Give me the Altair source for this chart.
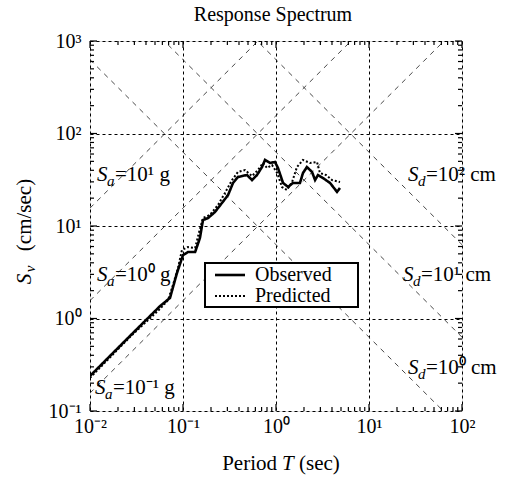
import altair as alt
import pandas as pd
import numpy as np

# ---------------- data ----------------
obs_T = [0.010, 0.0269, 0.0566, 0.0725, 0.0861, 0.100, 0.113, 0.135, 0.152, 0.164,
         0.186, 0.221, 0.262, 0.305, 0.345, 0.390, 0.488, 0.552, 0.625, 0.707,
         0.762, 0.862, 0.976, 1.05, 1.19, 1.35, 1.52, 1.81, 1.95, 2.15,
         2.44, 2.63, 2.83, 3.20, 3.81, 4.53, 4.88]
obs_Sv = [0.239, 0.647, 1.36, 1.67, 3.10, 4.85, 5.23, 5.23, 7.41, 11.6,
          12.2, 14.2, 17.7, 21.6, 29.2, 33.9, 35.6, 31.4, 35.6, 43.4,
          51.8, 48.0, 49.2, 42.4, 29.2, 26.4, 29.2, 29.2, 37.4, 43.4,
          38.4, 31.4, 35.6, 33.0, 29.2, 23.4, 25.8]
pred_T = [0.0100, 0.0269, 0.0566, 0.0690, 0.0780, 0.0883, 0.0975, 0.113, 0.135, 0.149,
          0.164, 0.195, 0.238, 0.283, 0.337, 0.390, 0.464, 0.552, 0.640, 0.724,
          0.800, 0.906, 1.03, 1.16, 1.31, 1.49, 1.68, 1.95, 2.32, 2.76,
          2.97, 3.45, 4.00, 4.88]
pred_Sv = [0.228, 0.631, 1.27, 1.58, 2.30, 3.52, 5.51, 5.93, 5.78, 8.61,
           12.2, 13.2, 16.9, 22.8, 31.4, 38.4, 40.3, 34.7, 40.3, 48.0,
           42.4, 45.6, 37.4, 26.4, 24.5, 29.9, 43.4, 51.8, 48.0, 49.2,
           37.4, 35.6, 31.4, 29.9]
series_names = ["Observed", "Predicted"]

x_decades = [0.01, 0.1, 1, 10, 100]
y_decades = [0.1, 1, 10, 100, 1000]
x_tick_text = ["10⁻²", "10⁻¹", "10⁰", "10¹", "10²"]
y_tick_text = ["10⁻¹", "10⁰", "10¹", "10²", "10³"]

sa_levels_g = [0.1, 1, 10]
sd_levels_cm = [1, 10, 100]
sa_label_rest = ["=10⁻¹ g", "=10⁰ g", "=10¹ g"]
sd_label_rest = ["=10⁰ cm", "=10¹ cm", "=10² cm"]
sa_label_T = [0.0113, 0.0119, 0.0119]
sa_label_Sv = [0.177, 2.95, 35.6]
sd_label_T = [26.2, 23.2, 26.2]
sd_label_Sv = [0.292, 2.95, 35.6]

G = 981.0
W, H = 372, 370
FONT = "Liberation Serif"

# ---------------- tables ----------------
lines_df = pd.concat([
    pd.DataFrame({"T": obs_T, "Sv": obs_Sv, "series": series_names[0]}),
    pd.DataFrame({"T": pred_T, "Sv": pred_Sv, "series": series_names[1]}),
])

diag_rows = []
for sa in sa_levels_g:
    for t in (0.01, 100.0):
        diag_rows.append({"T": t, "Sv": sa * G * t / (2 * np.pi), "line": f"Sa{sa}"})
for sd in sd_levels_cm:
    for t in (0.01, 100.0):
        diag_rows.append({"T": t, "Sv": 2 * np.pi * sd / t, "line": f"Sd{sd}"})
diag_df = pd.DataFrame(diag_rows)

x_minor = [m * 10.0 ** k for k in range(-2, 2) for m in range(2, 10)]
y_minor = [m * 10.0 ** k for k in range(-1, 3) for m in range(2, 10)]

lab_df = pd.DataFrame({
    "T": sa_label_T + sd_label_T,
    "Sv": sa_label_Sv + sd_label_Sv,
    "sub": ["a"] * 3 + ["d"] * 3,
    "rest": sa_label_rest + sd_label_rest,
})

xs = alt.Scale(type="log", domain=[0.01, 100], nice=False)
ys = alt.Scale(type="log", domain=[0.1, 1000], nice=False)

x_lab_expr = "[" + ",".join(f"'{s}'" for s in x_tick_text) + "][round(log(datum.value)/LN10)+2]"
y_lab_expr = "[" + ",".join(f"'{s}'" for s in y_tick_text) + "][round(log(datum.value)/LN10)+1]"

axis_common = dict(grid=True, gridDash=[3, 3], gridColor="black", gridWidth=1, gridOpacity=1,
                   ticks=False, domain=False, labelFont=FONT, labelFontSize=20,
                   labelColor="black", labelFlush=False, labelBound=False, title=None)
X_AXIS = alt.Axis(values=x_decades, labelExpr=x_lab_expr, labelPadding=5, **axis_common)
Y_AXIS = alt.Axis(values=y_decades, labelExpr=y_lab_expr, labelPadding=9, **axis_common)


def X(field):
    return alt.X(field, scale=xs, axis=X_AXIS)


def Y(field):
    return alt.Y(field, scale=ys, axis=Y_AXIS)


diag = alt.Chart(diag_df).mark_line(clip=True, color="#333333", strokeWidth=0.9,
                                    strokeDash=[5, 5]).encode(
    x=X("T:Q"), y=Y("Sv:Q"), detail="line:N")

data_lines = alt.Chart(lines_df).mark_line(clip=True, color="black").encode(
    x=X("T:Q"), y=Y("Sv:Q"),
    strokeDash=alt.StrokeDash("series:N",
                              scale=alt.Scale(domain=series_names, range=[[1, 0], [2, 2]]),
                              legend=None),
    strokeWidth=alt.StrokeWidth("series:N",
                                scale=alt.Scale(domain=series_names, range=[2.6, 2.0]),
                                legend=None),
)


def tick_layer(vals, orient, length):
    df = pd.DataFrame({"T": vals, "Sv": vals})
    base = alt.Chart(df).mark_rule(color="black", strokeWidth=1.2)
    if orient in ("bottom", "top"):
        enc = dict(x=X("T:Q"))
        if orient == "bottom":
            enc.update(y=alt.value(H), y2=alt.value(H - length))
        else:
            enc.update(y=alt.value(0), y2=alt.value(length))
    else:
        enc = dict(y=Y("Sv:Q"))
        if orient == "left":
            enc.update(x=alt.value(0), x2=alt.value(length))
        else:
            enc.update(x=alt.value(W), x2=alt.value(W - length))
    return base.encode(**enc)


ticks = [
    tick_layer(x_decades, "bottom", 7), tick_layer(x_minor, "bottom", 4),
    tick_layer(x_decades, "top", 7), tick_layer(x_minor, "top", 4),
    tick_layer(y_decades, "left", 7), tick_layer(y_minor, "left", 4),
    tick_layer(y_decades, "right", 7), tick_layer(y_minor, "right", 4),
]

lab_base = alt.Chart(lab_df).encode(x=X("T:Q"), y=Y("Sv:Q"))
lab_S = lab_base.mark_text(align="left", baseline="middle", font=FONT, fontSize=21,
                           fontStyle="italic", color="black").encode(text=alt.value("S"))
lab_sub = lab_base.mark_text(align="left", baseline="middle", font=FONT, fontSize=15,
                             fontStyle="italic", color="black", dx=10, dy=6).encode(text="sub:N")
lab_rest = lab_base.mark_text(align="left", baseline="middle", font=FONT, fontSize=21,
                              color="black", dx=18).encode(text="rest:N")


def free_text(txt, x, y, size=21, italic=False, angle=0, align="left", baseline="alphabetic"):
    kw = dict(align=align, baseline=baseline, font=FONT, fontSize=size, color="black",
              angle=angle)
    if italic:
        kw["fontStyle"] = "italic"
    return alt.Chart(pd.DataFrame({"t": [txt]})).mark_text(**kw).encode(
        text="t:N", x=alt.value(x), y=alt.value(y))


title = free_text("Response Spectrum", 183, -20, size=20, align="center")

xtitle = [
    free_text("Period", 187, 429, align="right"),
    free_text("T", 192, 429, italic=True),
    free_text("(sec)", 209, 429),
]
# rotated y title, each piece centred on its own position
ytitle = [
    free_text("S", -65, 238, size=21, italic=True, angle=270, align="center", baseline="middle"),
    free_text("v", -60, 228, size=15, italic=True, angle=270, align="center", baseline="middle"),
    free_text("(cm/sec)", -65, 174, size=21, angle=270, align="center", baseline="middle"),
]

# legend box (drawn as marks so its size matches the reference)
LX0, LY0, LX1, LY1 = 115, 222, 268, 266
legend_box = alt.Chart(pd.DataFrame({"k": [0]})).mark_rect(
    fill="white", stroke="black", strokeWidth=2).encode(
    x=alt.value(LX0), x2=alt.value(LX1), y=alt.value(LY0), y2=alt.value(LY1))
legend_obs = alt.Chart(pd.DataFrame({"k": [0]})).mark_rule(
    color="black", strokeWidth=2.6).encode(
    x=alt.value(LX0 + 10), x2=alt.value(LX0 + 40), y=alt.value(LY0 + 12))
legend_pred = alt.Chart(pd.DataFrame({"k": [0]})).mark_rule(
    color="black", strokeWidth=2.0, strokeDash=[2, 2]).encode(
    x=alt.value(LX0 + 10), x2=alt.value(LX0 + 40), y=alt.value(LY0 + 33))
legend_txt = [
    free_text(series_names[0], LX0 + 50, LY0 + 12, size=20, baseline="middle"),
    free_text(series_names[1], LX0 + 50, LY0 + 33, size=20, baseline="middle"),
]

chart = alt.layer(diag, *ticks, data_lines, lab_S, lab_sub, lab_rest, title, *xtitle, *ytitle,
                  legend_box, legend_obs, legend_pred, *legend_txt).properties(
    width=W, height=H,
    autosize=alt.AutoSizeParams(type="none"),
    padding={"left": 90, "top": 41, "right": 51, "bottom": 69},
).configure_view(stroke="black", strokeWidth=2).configure(background="white")

chart.save("out.html", embed_options={"renderer": "svg", "actions": False})
